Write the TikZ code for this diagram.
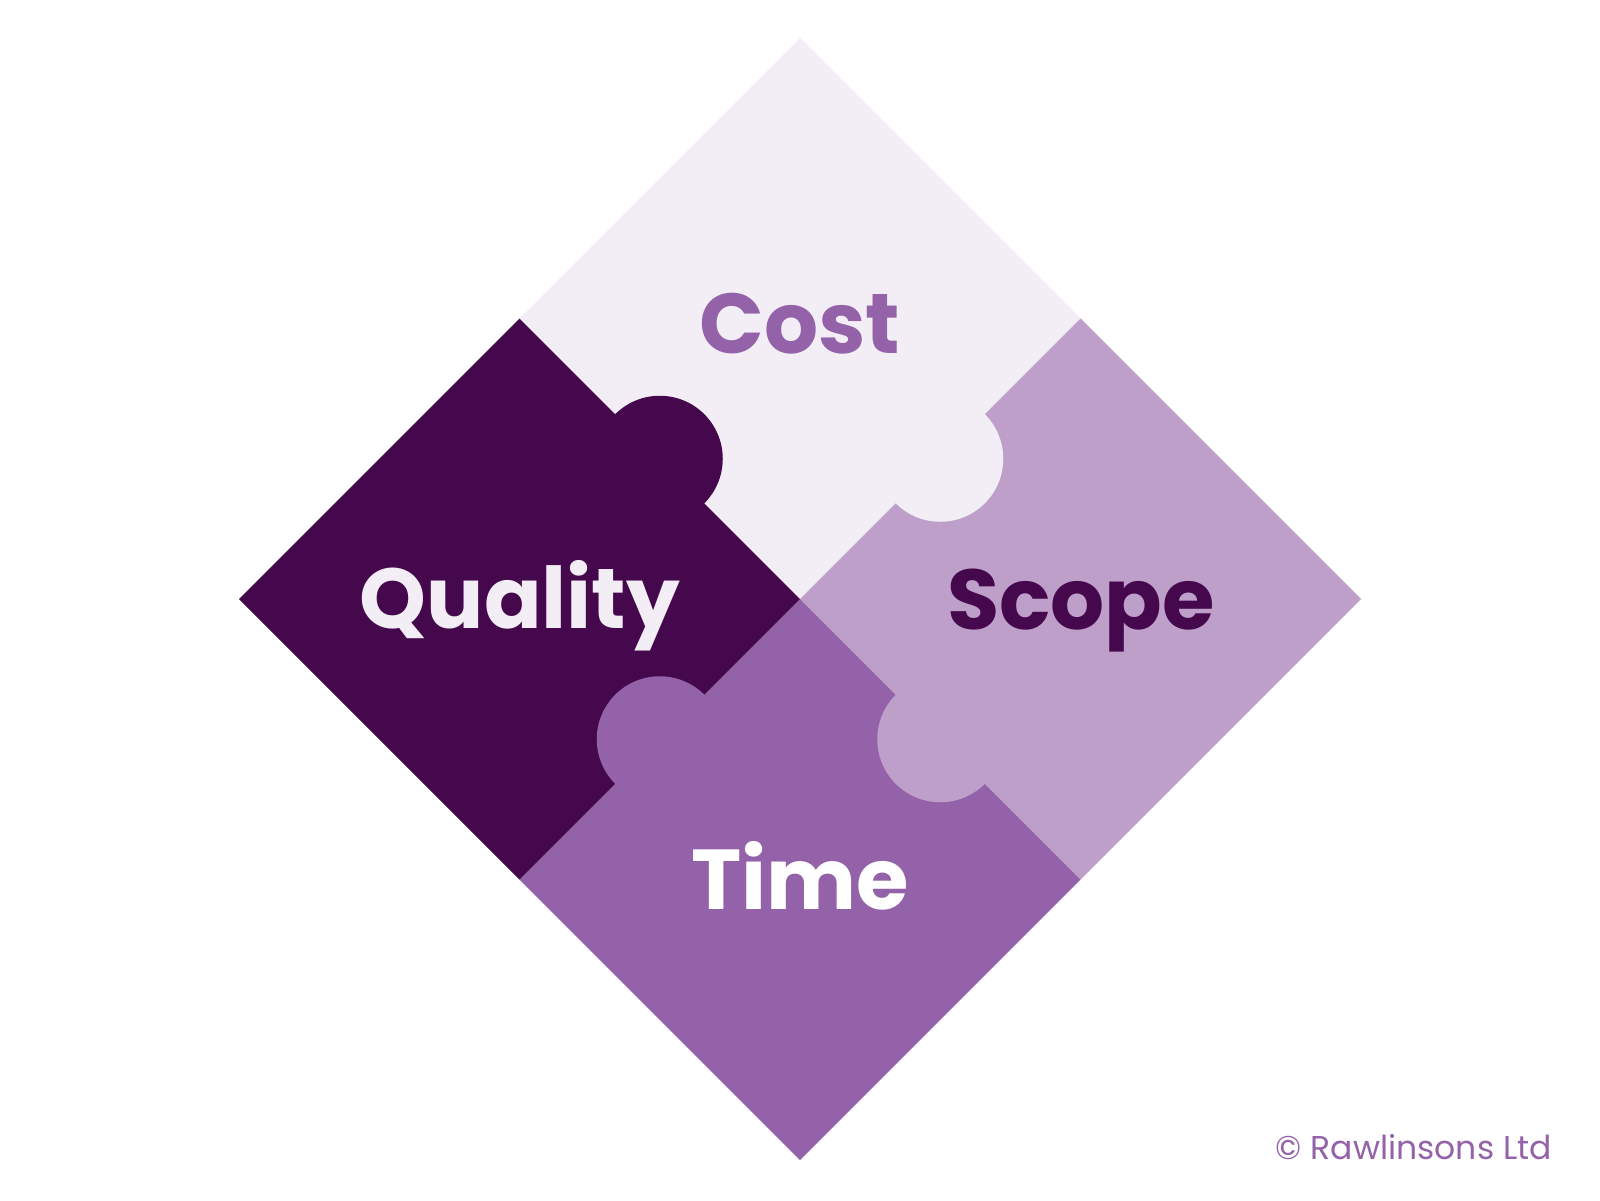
\documentclass[tikz,border=0pt]{standalone}
\usepackage{fontspec}
\setmainfont{Poppins}
\usetikzlibrary{calc}

\definecolor{costbg}{HTML}{F3EEF6}
\definecolor{scopebg}{HTML}{BE9FCA}
\definecolor{timebg}{HTML}{9362A8}
\definecolor{qualitybg}{HTML}{46084D}

\tikzset{
  piece/.style={draw=none},
  label/.style={font=\fontsize{42.5}{48}\selectfont\bfseries, inner sep=0pt, anchor=base},
}

\begin{document}
\begin{tikzpicture}[x=0.5pt,y=-0.5pt]
\fill[white] (0,0) rectangle (1600,1200);
\useasboundingbox (0,0) rectangle (1600,1200);

% Corners, edge midpoints and centre of the diamond
\coordinate (t) at (800,38);
\coordinate (l) at (239,599);
\coordinate (r) at (1361,599);
\coordinate (b) at (800,1160);
\coordinate (c) at (800,599);
\coordinate (tl) at ($(t)!0.5!(l)$);
\coordinate (tr) at ($(t)!0.5!(r)$);
\coordinate (bl) at ($(b)!0.5!(l)$);
\coordinate (br) at ($(b)!0.5!(r)$);

% Four quarters
\fill[piece,costbg] (t) -- (tr) -- (c) -- (tl) -- cycle;
\fill[piece,scopebg] (tr) -- (r) -- (br) -- (c) -- cycle;
\fill[piece,timebg] (c) -- (br) -- (b) -- (bl) -- cycle;
\fill[piece,qualitybg] (tl) -- (c) -- (bl) -- (l) -- cycle;

% Puzzle tabs on the inner joints
\foreach \p/\col in {tl/qualitybg, tr/costbg, bl/timebg, br/scopebg} {
  \fill[\col] ($(\p)!0.5!(c)$) circle (63);
}

% Labels
\node[label,timebg] (cost) at (800,353) {Cost};
\node[label,costbg] (quality) at (520,628) {Quality};
\node[label,qualitybg] (scope) at (1081,629) {Scope};
\node[label,white] (time) at (800,909) {Time};

% Copyright note
\node[anchor=base east,inner sep=0pt,font=\fontsize{16.5}{18}\selectfont,text=timebg]
  (copy) at (1552,1159) {© Rawlinsons Ltd};
\end{tikzpicture}
\end{document}
